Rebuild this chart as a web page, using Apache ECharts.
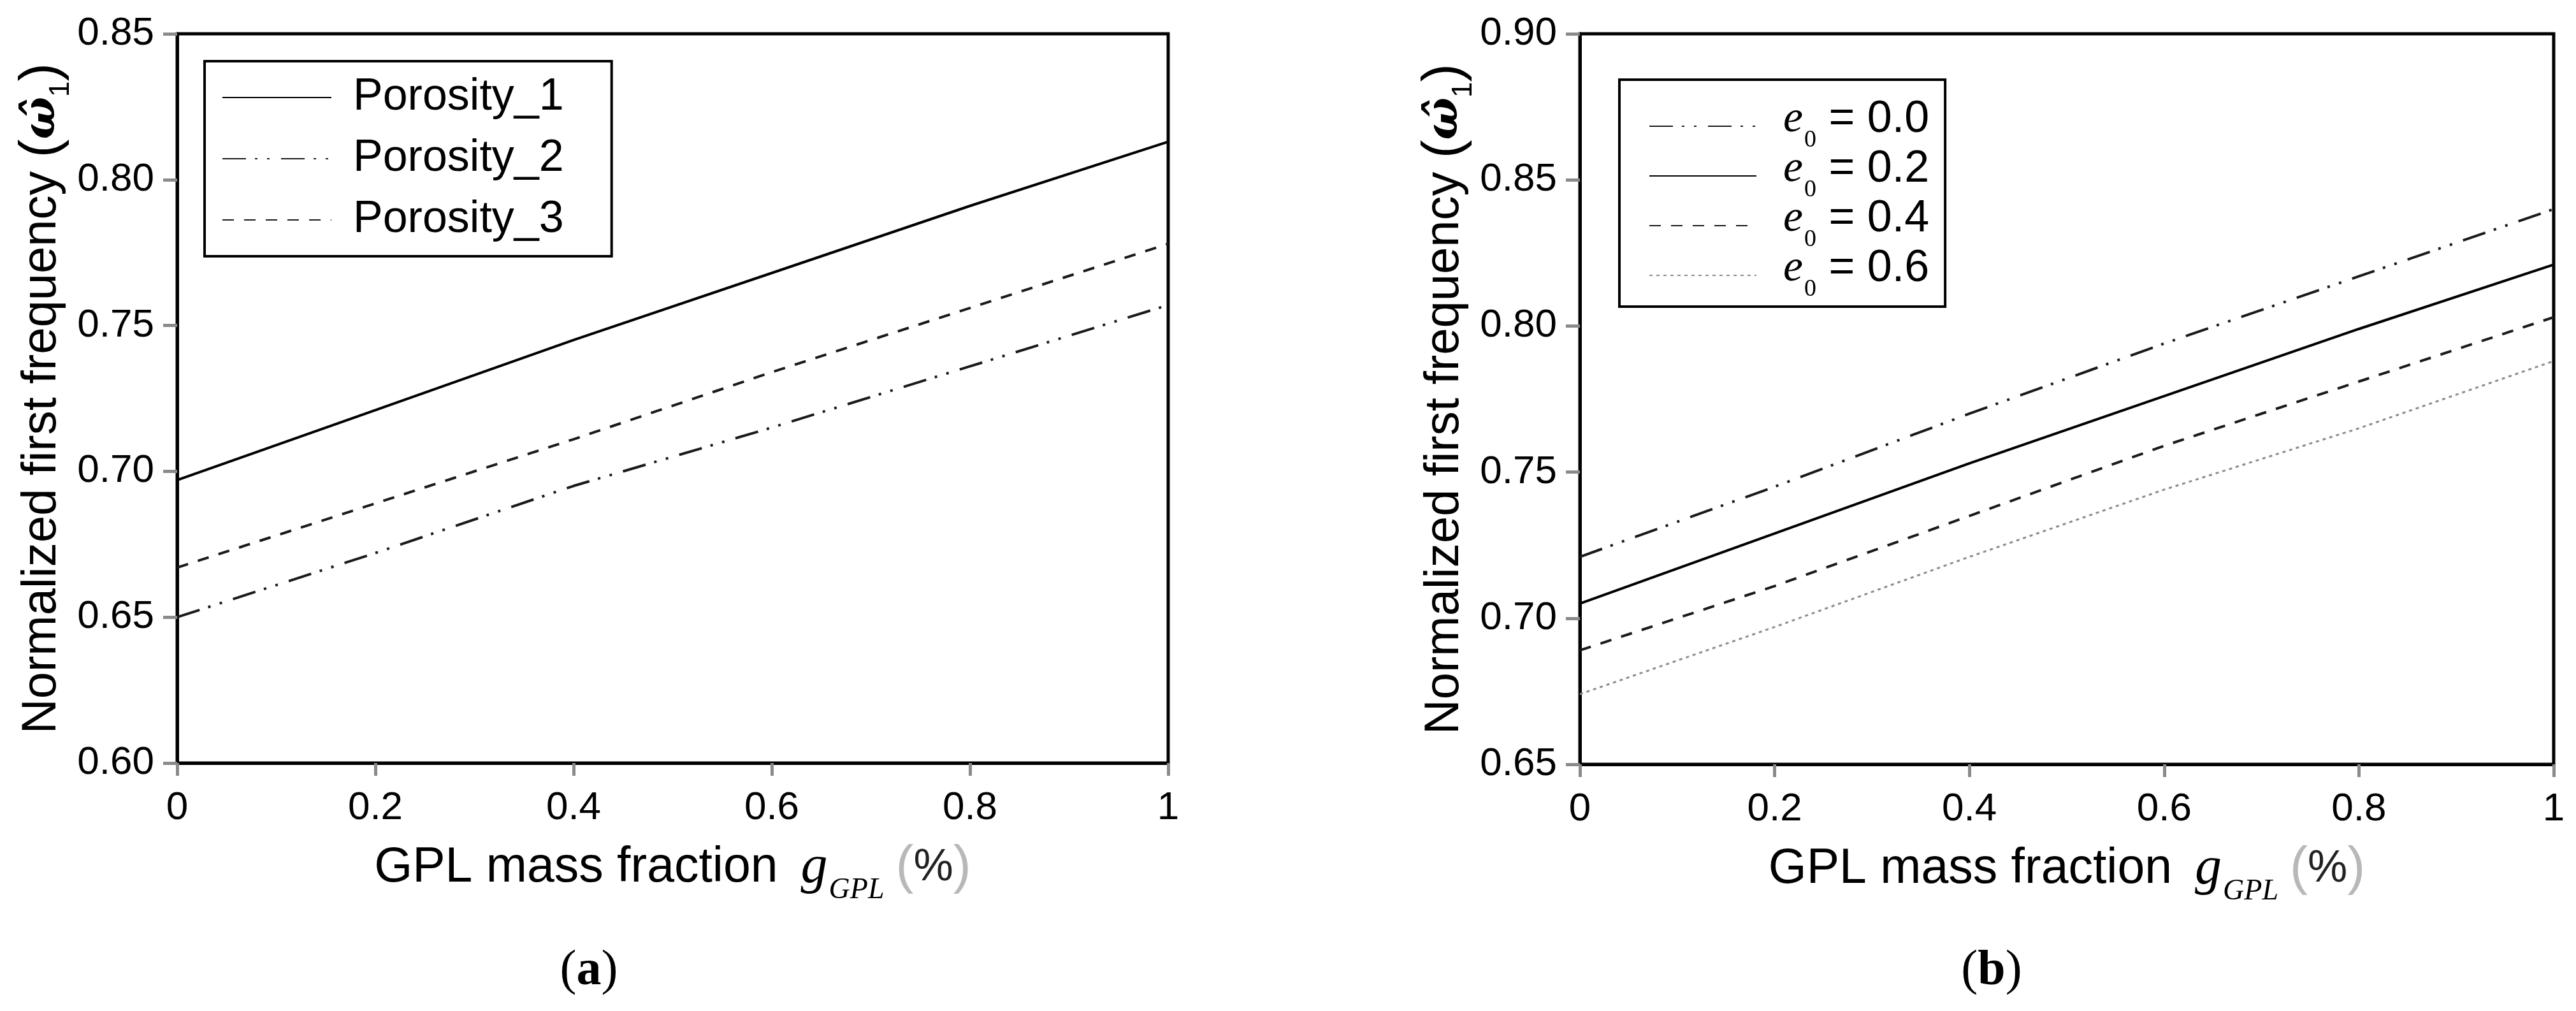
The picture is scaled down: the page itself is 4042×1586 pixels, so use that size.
<!DOCTYPE html>
<html>
<head>
<meta charset="utf-8">
<title>Normalized first frequency vs GPL mass fraction</title>
<script src="https://cdn.jsdelivr.net/npm/echarts@6/dist/echarts.min.js"></script>
<style>
  html, body { margin: 0; padding: 0; background: #fff; }
  #chart { width: 4042px; height: 1586px; }
</style>
</head>
<body>
<div id="chart"></div>
<script>
// GPL 质量分数 (x 轴)
const xValues = [0, 0.2, 0.4, 0.6, 0.8, 1.0]
const xTicks = [0, 0.2, 0.4, 0.6, 0.8, 1]

// (a) 孔隙分布
const porosityNames = ['Porosity_1', 'Porosity_2', 'Porosity_3']
const porosity1 = [0.697, 0.721, 0.745, 0.768, 0.791, 0.813]
const porosity2 = [0.650, 0.672, 0.695, 0.715, 0.736, 0.757]
const porosity3 = [0.667, 0.689, 0.711, 0.734, 0.756, 0.778]
const yTicksA = [0.60, 0.65, 0.70, 0.75, 0.80, 0.85]

// (b) 孔隙系数 e0
const e0Labels = ['0.0', '0.2', '0.4', '0.6']
const e0_00 = [0.721, 0.745, 0.770, 0.794, 0.817, 0.840]
const e0_02 = [0.705, 0.729, 0.753, 0.776, 0.799, 0.821]
const e0_04 = [0.689, 0.711, 0.735, 0.759, 0.781, 0.803]
const e0_06 = [0.674, 0.697, 0.721, 0.744, 0.765, 0.788]
const yTicksB = [0.65, 0.70, 0.75, 0.80, 0.85, 0.90]

const SANS = 'Liberation Sans, Arial, sans-serif'
const SERIF = 'Liberation Serif, Times New Roman, serif'

const toPairs = ys => xValues.map((x, i) => [x, ys[i]])

// 线型
const dashDotDot = [37, 14, 4, 15, 4, 18]
const dashed = [18, 16]
const dotted = [5, 6]

function lineSeries(name, ys, idx, color, type, width) {
  return {
    name,
    type: 'line',
    xAxisIndex: idx,
    yAxisIndex: idx,
    data: toPairs(ys),
    symbol: 'none',
    silent: true,
    animation: false,
    lineStyle: { color, width, type },
    itemStyle: { color },
  }
}

function xAxisOpt(gridIndex) {
  return {
    type: 'value',
    gridIndex,
    min: xTicks[0],
    max: xTicks[xTicks.length - 1],
    interval: 0.2,
    name: '{m|GPL mass fraction}{g|g}{sub|GPL}{p|(}{pct|%}{p|)}',
    nameLocation: 'middle',
    nameGap: 110,
    nameTextStyle: {
      rich: {
        m: { fontFamily: SANS, fontSize: 77, lineHeight: 77, color: '#000' },
        g: { fontFamily: SERIF, fontStyle: 'italic', fontSize: 84, lineHeight: 84, padding: [0, 2, 0, 36], color: '#000' },
        sub: { fontFamily: SERIF, fontStyle: 'italic', fontSize: 46, lineHeight: 46, padding: [70, 18, 0, 0], color: '#000' },
        p: { fontFamily: SANS, fontSize: 84, lineHeight: 84, color: '#b8b8b8' },
        pct: { fontFamily: SANS, fontSize: 70, lineHeight: 70, color: '#222' },
      },
    },
    axisLine: { show: true, lineStyle: { color: '#000', width: 5 } },
    axisTick: { show: true, inside: false, length: 20, lineStyle: { color: '#8a8a8a', width: 5 } },
    axisLabel: {
      margin: 40,
      fontFamily: SANS,
      fontSize: 62,
      color: '#000',
      formatter: v => (v === 0 || v === 1 ? String(v) : v.toFixed(1)),
    },
    splitLine: { show: false },
  }
}

function yAxisOpt(gridIndex, ticks) {
  return {
    type: 'value',
    gridIndex,
    min: ticks[0],
    max: ticks[ticks.length - 1],
    interval: 0.05,
    name: '{m|Normalized first frequency }{par|(}{om|\u03C9\u0302}{sub|1}{par|)}',
    nameLocation: 'middle',
    nameGap: 165,
    nameTextStyle: {
      rich: {
        m: { fontFamily: SANS, fontSize: 76, lineHeight: 76, color: '#000' },
        par: { fontFamily: SANS, fontSize: 86, lineHeight: 86, color: '#000' },
        om: { fontFamily: 'DejaVu Serif, serif', fontStyle: 'italic', fontWeight: 'bold', fontSize: 70, lineHeight: 86, color: '#000' },
        sub: { fontFamily: SANS, fontSize: 44, lineHeight: 44, padding: [58, 0, 0, 0], color: '#000' },
      },
    },
    axisLine: { show: true, lineStyle: { color: '#000', width: 5 } },
    axisTick: { show: true, inside: false, length: 22, lineStyle: { color: '#8a8a8a', width: 5 } },
    axisLabel: {
      margin: 36,
      fontFamily: SANS,
      fontSize: 62,
      color: '#000',
      formatter: v => v.toFixed(2),
    },
    splitLine: { show: false },
  }
}

const gridStyle = { show: true, borderColor: '#000', borderWidth: 5, backgroundColor: 'transparent' }

// 图例只画线型，不画标记点
const legendItemStyle = { color: 'transparent', borderWidth: 0, opacity: 0 }

const chart = echarts.init(document.getElementById('chart'), null, { renderer: 'canvas' })

chart.setOption({
  backgroundColor: '#fff',
  animation: false,
  grid: [
    { left: 278, top: 53, width: 1555, height: 1144, ...gridStyle },
    { left: 2479, top: 53, width: 1528, height: 1146, ...gridStyle },
  ],
  xAxis: [xAxisOpt(0), xAxisOpt(1)],
  yAxis: [yAxisOpt(0, yTicksA), yAxisOpt(1, yTicksB)],
  legend: [
    {
      orient: 'vertical',
      left: 321,
      top: 96,
      padding: [22, 75, 22, 27],
      itemWidth: 171,
      itemHeight: 20,
      itemGap: 26,
      borderColor: '#000',
      borderWidth: 4,
      selectedMode: false,
      itemStyle: legendItemStyle,
      data: porosityNames,
      formatter: name => '{gap|}{t|' + name + '}',
      textStyle: {
        rich: {
          gap: { width: 29 },
          t: { fontFamily: SANS, fontSize: 70, lineHeight: 70, color: '#000' },
        },
      },
    },
    {
      orient: 'vertical',
      left: 2541,
      top: 125,
      padding: [28, 25, 4, 46],
      itemWidth: 168,
      itemHeight: 20,
      itemGap: -12,
      borderColor: '#000',
      borderWidth: 4,
      selectedMode: false,
      itemStyle: legendItemStyle,
      data: e0Labels.map(v => 'e0 = ' + v),
      formatter: name => '{gap|}{e|e}{sub|0}{t| = ' + name.split('= ')[1] + '}',
      textStyle: {
        rich: {
          gap: { width: 37 },
          e: { fontFamily: SERIF, fontStyle: 'italic', fontSize: 70, lineHeight: 57, padding: [0, 0, 20, 0], color: '#000' },
          sub: { fontFamily: SERIF, fontSize: 38, lineHeight: 37, padding: [44, 0, 0, 2], color: '#000' },
          t: { fontFamily: SANS, fontSize: 70, lineHeight: 57, padding: [0, 0, 20, 0], color: '#000' },
        },
      },
    },
  ],
  graphic: [
    {
      type: 'text',
      x: 924,
      y: 1524,
      silent: true,
      style: {
        text: '{p|(}{b|a}{p|)}',
        align: 'center',
        verticalAlign: 'middle',
        rich: {
          p: { fontFamily: SERIF, fontSize: 78, fill: '#000' },
          b: { fontFamily: SERIF, fontWeight: 'bold', fontSize: 78, fill: '#000' },
        },
      },
    },
    {
      type: 'text',
      x: 3125,
      y: 1524,
      silent: true,
      style: {
        text: '{p|(}{b|b}{p|)}',
        align: 'center',
        verticalAlign: 'middle',
        rich: {
          p: { fontFamily: SERIF, fontSize: 78, fill: '#000' },
          b: { fontFamily: SERIF, fontWeight: 'bold', fontSize: 78, fill: '#000' },
        },
      },
    },
  ],
  series: [
    lineSeries(porosityNames[0], porosity1, 0, '#000', 'solid', 4),
    lineSeries(porosityNames[1], porosity2, 0, '#1a1a1a', dashDotDot, 4),
    lineSeries(porosityNames[2], porosity3, 0, '#1a1a1a', dashed, 4),
    lineSeries('e0 = ' + e0Labels[0], e0_00, 1, '#1a1a1a', dashDotDot, 4),
    lineSeries('e0 = ' + e0Labels[1], e0_02, 1, '#000', 'solid', 4),
    lineSeries('e0 = ' + e0Labels[2], e0_04, 1, '#1a1a1a', dashed, 4),
    lineSeries('e0 = ' + e0Labels[3], e0_06, 1, '#8c8c8c', dotted, 3),
  ],
})
</script>
</body>
</html>
